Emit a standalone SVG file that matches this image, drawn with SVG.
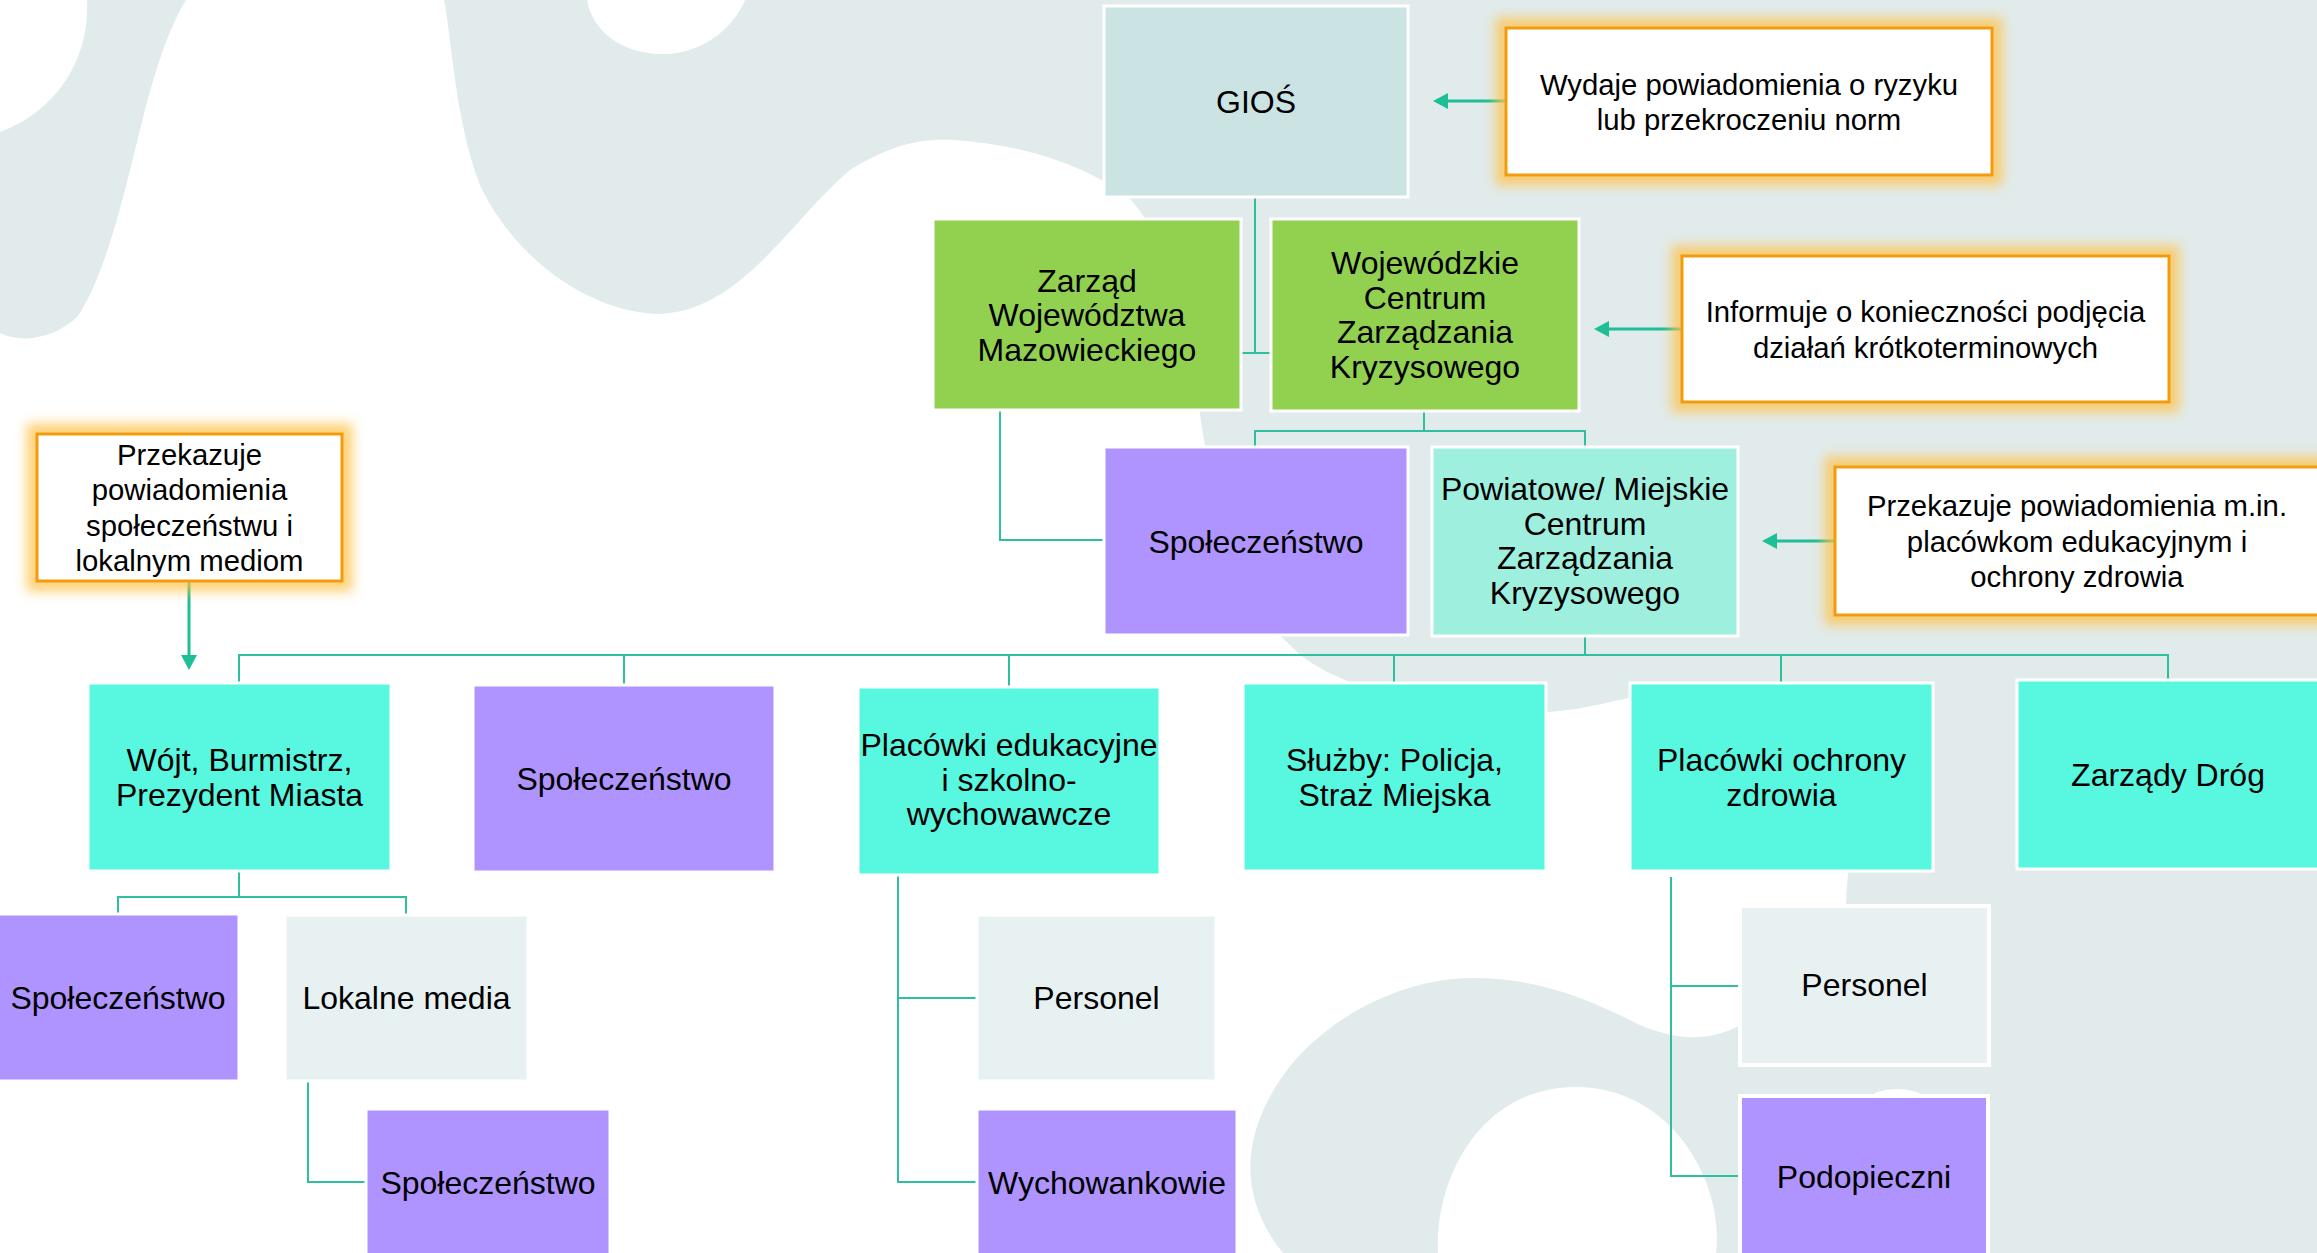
<svg xmlns="http://www.w3.org/2000/svg" width="2317" height="1253" viewBox="0 0 2317 1253">
<defs>
<style>
.bg{fill:#E1EBEB}
.hole{fill:#FFFFFF}
.n rect{stroke:#FFFFFF;stroke-width:3}
.n text,.lb text{font-family:"Liberation Sans",Arial,sans-serif;fill:#000;text-anchor:middle}
.n text{font-size:32px}
.lb text{font-size:29.3px}
.gios{fill:#CCE3E4}
.green{fill:#92D050}
.purple{fill:#AF94FF}
.cyan{fill:#58F7E0}
.mint{fill:#9EEFDE}
.light{fill:#E8F1F2}
.thick rect{stroke-width:4}
.lb rect{fill:#FFFFFF;stroke:#F29B0C;stroke-width:3;filter:url(#glow)}
.conn{fill:none;stroke:#2EC09E;stroke-width:2}
.arr{fill:none;stroke:#1EBE97;stroke-width:3;marker-end:url(#ah)}
</style>
<marker id="ah" markerUnits="userSpaceOnUse" viewBox="0 0 15 16" refX="0" refY="8" markerWidth="15" markerHeight="16" orient="auto">
<path d="M0,0 L15,8 L0,16 Z" fill="#1EBE97"/>
</marker>
<filter id="glow" x="-15%" y="-35%" width="130%" height="170%">
<feMorphology in="SourceAlpha" operator="dilate" radius="9" result="d"/>
<feGaussianBlur in="d" stdDeviation="6" result="b"/>
<feFlood flood-color="#FFC24A" flood-opacity="0.75"/>
<feComposite in2="b" operator="in" result="g"/>
<feMerge><feMergeNode in="g"/><feMergeNode in="SourceGraphic"/></feMerge>
</filter>
</defs>

<g id="background">
<rect x="0" y="0" width="2317" height="1253" fill="#FFFFFF"/>
<path class="bg" d="M87,0 C90,55 60,110 0,132 L0,333 C25,345 58,336 78,316 C108,270 126,185 145,110 C158,60 172,22 186,0 Z"/>
<path class="bg" d="M444,0 C452,40 455,120 480,185 C510,250 580,310 656,314 C740,314 790,220 850,170 C890,145 920,138 954,140 C1030,145 1090,168 1129,198 C1170,240 1190,340 1201,421 C1215,520 1250,610 1290,645 C1330,690 1450,715 1548,712 C1580,710 1610,702 1628,698 C1750,680 1840,800 1848,873 L1846,902 C1840,970 1790,1010 1737,1027 C1710,1040 1680,1042 1640,1025 C1590,1000 1540,978 1473,978 C1400,978 1320,1020 1280,1080 C1240,1140 1240,1200 1283,1253 L2317,1253 L2317,0 Z"/>
<path class="hole" d="M587,0 C592,30 620,54 663,54 C705,54 735,25 745,0 Z"/>
<path class="hole" d="M1438,1253 C1434,1180 1480,1087 1576,1087 C1670,1087 1724,1180 1716,1253 Z"/>
<ellipse class="hole" cx="1897" cy="1102" rx="30" ry="13"/>
</g>

<g id="connectors">
<path class="conn" d="M1255,198 V353 M1241,353 H1271"/>
<path class="conn" d="M1424,411 V431 M1255,447 V431 H1585 V447"/>
<path class="conn" d="M1000,410 V540 H1104"/>
<path class="conn" d="M1585,636 V655 M239,683 V655 H2168 V680 M624,655 V685 M1009,655 V687 M1394,655 V683 M1781,655 V683"/>
<path class="conn" d="M239,871 V897 M118,914 V897 H406 V915"/>
<path class="conn" d="M308,1081 V1182 H366"/>
<path class="conn" d="M898,875 V1182 H977 M898,998 H977"/>
<path class="conn" d="M1671,877 V1176 H1740 M1671,986 H1740"/>
<path class="arr" d="M1506,101 H1448"/>
<path class="arr" d="M1682,329 H1609"/>
<path class="arr" d="M1835,541 H1777"/>
<path class="arr" d="M189,582 V655"/>
</g>

<g id="node-gios" class="n"><rect class="gios" x="1104" y="6" width="304" height="191"/><text x="1256" y="113">GIOŚ</text></g>
<g id="node-zarzad" class="n"><rect class="green" x="933" y="219" width="308" height="191"/><text x="1087"><tspan x="1087" y="291.5">Zarząd</tspan><tspan x="1087" y="326">Województwa</tspan><tspan x="1087" y="360.5">Mazowieckiego</tspan></text></g>
<g id="node-wczk" class="n"><rect class="green" x="1271" y="219" width="308" height="192"/><text x="1425"><tspan x="1425" y="274">Wojewódzkie</tspan><tspan x="1425" y="308.5">Centrum</tspan><tspan x="1425" y="343">Zarządzania</tspan><tspan x="1425" y="377.5">Kryzysowego</tspan></text></g>
<g id="node-spol1" class="n"><rect class="purple" x="1104" y="447" width="304" height="188"/><text x="1256" y="552.5">Społeczeństwo</text></g>
<g id="node-pczk" class="n"><rect class="mint" x="1432" y="447" width="306" height="189"/><text x="1585"><tspan x="1585" y="500">Powiatowe/ Miejskie</tspan><tspan x="1585" y="534.5">Centrum</tspan><tspan x="1585" y="569">Zarządzania</tspan><tspan x="1585" y="603.5">Kryzysowego</tspan></text></g>
<g id="node-wojt" class="n"><rect class="cyan" x="88" y="683" width="303" height="188"/><text x="239.5"><tspan x="239.5" y="771">Wójt, Burmistrz,</tspan><tspan x="239.5" y="805.5">Prezydent Miasta</tspan></text></g>
<g id="node-spol2" class="n"><rect class="purple" x="473" y="685" width="302" height="187"/><text x="624" y="789.5">Społeczeństwo</text></g>
<g id="node-edu" class="n"><rect class="cyan" x="858" y="687" width="302" height="188"/><text x="1009"><tspan x="1009" y="756">Placówki edukacyjne</tspan><tspan x="1009" y="790.5">i szkolno-</tspan><tspan x="1009" y="825">wychowawcze</tspan></text></g>
<g id="node-sluzby" class="n"><rect class="cyan" x="1243" y="683" width="303" height="188"/><text x="1394.5"><tspan x="1394.5" y="771">Służby: Policja,</tspan><tspan x="1394.5" y="805.5">Straż Miejska</tspan></text></g>
<g id="node-zdrowie" class="n"><rect class="cyan" x="1630" y="683" width="303" height="188"/><text x="1781.5"><tspan x="1781.5" y="771">Placówki ochrony</tspan><tspan x="1781.5" y="805.5">zdrowia</tspan></text></g>
<g id="node-drogi" class="n"><rect class="cyan" x="2017" y="680" width="305" height="189"/><text x="2168" y="785.5">Zarządy Dróg</text></g>
<g id="node-spol3" class="n"><rect class="purple" x="-4" y="914" width="243" height="167"/><text x="118" y="1008.5">Społeczeństwo</text></g>
<g id="node-media" class="n"><rect class="light" x="285" y="915" width="243" height="166"/><text x="406.5" y="1009">Lokalne media</text></g>
<g id="node-spol4" class="n"><rect class="purple" x="366" y="1109" width="244" height="150"/><text x="488" y="1193.5">Społeczeństwo</text></g>
<g id="node-personel1" class="n"><rect class="light" x="977" y="915" width="239" height="166"/><text x="1096.5" y="1009">Personel</text></g>
<g id="node-wychowankowie" class="n"><rect class="purple" x="977" y="1109" width="260" height="150"/><text x="1107" y="1193.5">Wychowankowie</text></g>
<g id="node-personel2" class="n thick"><rect class="light" x="1740" y="906" width="249" height="159"/><text x="1864.5" y="996">Personel</text></g>
<g id="node-podopieczni" class="n thick"><rect class="purple" x="1740" y="1096" width="248" height="162"/><text x="1864" y="1187.5">Podopieczni</text></g>

<g id="label-gios" class="lb"><rect x="1506" y="28" width="486" height="147"/><text><tspan x="1749" y="94.5">Wydaje powiadomienia o ryzyku</tspan><tspan x="1749" y="130">lub przekroczeniu norm</tspan></text></g>
<g id="label-wczk" class="lb"><rect x="1682" y="256" width="487" height="146"/><text><tspan x="1925.5" y="322">Informuje o konieczności podjęcia</tspan><tspan x="1925.5" y="357.5">działań krótkoterminowych</tspan></text></g>
<g id="label-pczk" class="lb"><rect x="1835" y="467" width="487" height="148"/><text><tspan x="2077" y="516">Przekazuje powiadomienia m.in.</tspan><tspan x="2077" y="551.5">placówkom edukacyjnym i</tspan><tspan x="2077" y="587">ochrony zdrowia</tspan></text></g>
<g id="label-wojt" class="lb"><rect x="37" y="434" width="305" height="147"/><text><tspan x="189.5" y="464.5">Przekazuje</tspan><tspan x="189.5" y="500">powiadomienia</tspan><tspan x="189.5" y="535.5">społeczeństwu i</tspan><tspan x="189.5" y="571">lokalnym mediom</tspan></text></g>
</svg>
